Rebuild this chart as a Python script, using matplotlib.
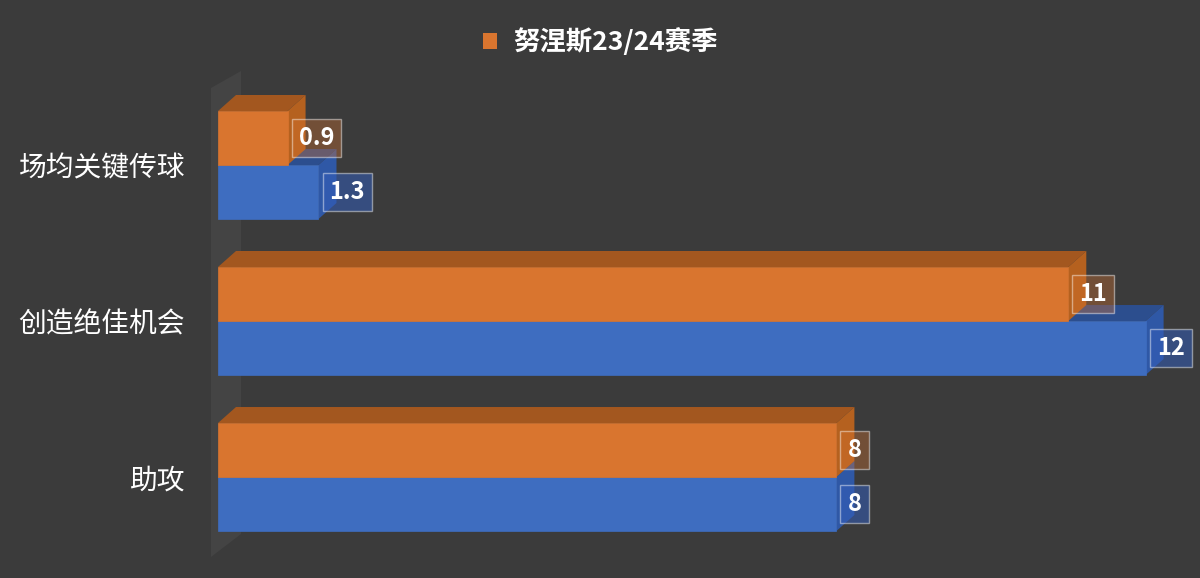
import matplotlib.pyplot as plt
from matplotlib.patches import Polygon, Patch
import numpy as np

plt.rcParams['font.family'] = ['Noto Sans CJK SC', 'DejaVu Sans']

# data
categories = ["场均关键传球", "创造绝佳机会", "助攻"]
orange_vals = [0.9, 11, 8]
blue_vals = [1.3, 12, 8]
orange_label = "努涅斯23/24赛季"
blue_label = "对比"

BG = "#3b3b3b"
ORANGE = {"front": "#d9752f", "top": "#a3571f", "side": "#b5611f"}
BLUE = {"front": "#3e6dc0", "top": "#2c4e8e", "side": "#2f58a6"}

fig = plt.figure(figsize=(12, 5.78), dpi=100, facecolor=BG)
ax = fig.add_axes([218 / 1200, 1 - 560 / 578, 972 / 1200, 490 / 578])
ax.set_facecolor("none")
ax.set_xlim(0, 972 / 77.3)
ax.set_ylim(2.532, -0.609)

# back wall (decoration, figure pixels), kept behind the axes
wall = Polygon([(211, 578 - 88), (241, 578 - 71), (241, 578 - 534), (211, 578 - 557)],
               closed=True, transform=None, facecolor="#444444", edgecolor="none", zorder=-5)
fig.patches.append(wall)

y = np.arange(len(categories))
h = 54 / 156

# depth offsets in data units (18 px right, 16 px up)
fig.canvas.draw()
x0, y0 = ax.transData.transform((0, 0))
x1, y1 = ax.transData.transform((1, 1))
dx = 18 / (x1 - x0)
dy = 16 / (y1 - y0)  # y axis inverted -> negative value means upward


def bar3d(vals, centers, cols, z, label=None):
    ax.barh(centers, vals, height=h, color=cols["front"], zorder=z + 1, label=label,
            edgecolor=cols["front"], linewidth=0.5)
    for v, c in zip(vals, centers):
        top = c - h / 2
        bot = c + h / 2
        ax.add_patch(Polygon([(0, top), (v, top), (v + dx, top + dy), (dx, top + dy)],
                             closed=True, facecolor=cols["top"], edgecolor="none", zorder=z))
        ax.add_patch(Polygon([(v, top), (v + dx, top + dy), (v + dx, bot + dy), (v, bot)],
                             closed=True, facecolor=cols["side"], edgecolor="none", zorder=z))


bar3d(blue_vals, y + h / 2, BLUE, 2)
bar3d(orange_vals, y - h / 2, ORANGE, 4, label=orange_label)


def value_labels(vals, centers, face):
    for v, c in zip(vals, centers):
        ax.annotate(f"{v:g}", xy=(v, c), xytext=(8, 0), textcoords="offset points",
                    ha="left", va="center", color="white", fontsize=17, fontweight="bold",
                    zorder=8,
                    bbox=dict(boxstyle="square,pad=0.3", facecolor=face,
                              edgecolor=(1, 1, 1, 0.45), linewidth=1))


value_labels(orange_vals, y - h / 2, (0.85, 0.46, 0.19, 0.35))
value_labels(blue_vals, y + h / 2, (0.2, 0.36, 0.72, 0.55))

ax.set_yticks(y)
ax.set_yticklabels(categories, fontsize=20, color="white")
ax.tick_params(axis="y", length=0, pad=24)
ax.set_xticks([])
for s in ax.spines.values():
    s.set_visible(False)

fig.legend(handles=[Patch(facecolor=ORANGE["front"], label=orange_label)],
           loc="center", bbox_to_anchor=(0.5, 1 - 42 / 578), frameon=False,
           handlelength=0.55, handleheight=0.55, handletextpad=0.6,
           prop={"size": 19, "weight": "bold"}, labelcolor="white")

fig.savefig("out.png", dpi=100, facecolor=BG)
